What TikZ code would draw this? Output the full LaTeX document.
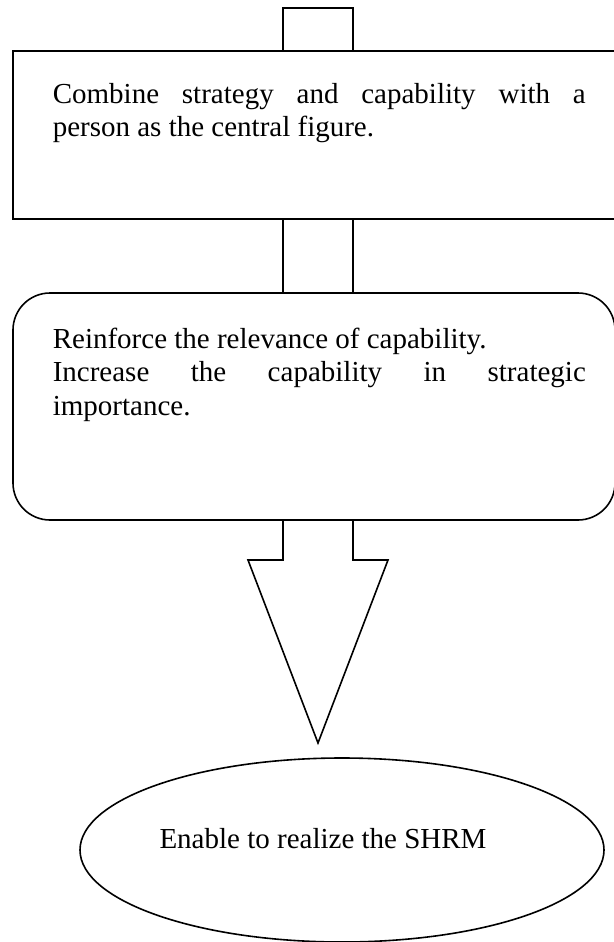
\documentclass[tikz,border=0pt]{standalone}
\usepackage{fontspec}
\setmainfont{Liberation Serif}
\usetikzlibrary{shapes.geometric,positioning}
\tikzset{
  frame/.style={draw, line width=1.6pt, inner sep=0pt, outer sep=0pt, anchor=north west},
  para/.style={inner sep=0pt, anchor=base west, text width=533pt, align=justify,
    font=\fontsize{29}{33.5}\selectfont},
  plain/.style={inner sep=0pt, anchor=base, font=\fontsize{29}{33.5}\selectfont},
}
\hbadness=10000
\begin{document}
\begin{tikzpicture}[x=1pt,y=-1pt,line width=1.6pt]
  \useasboundingbox (0,0) rectangle (613,942);
  \node[frame, minimum width=603pt, minimum height=168pt] (combine) at (13,51) {};
  \node[frame, rounded corners=37pt, minimum width=602pt, minimum height=227pt] (reinforce) at (13,293) {};
  \node[frame, ellipse, anchor=center, minimum width=524pt, minimum height=184pt] (shrm) at (342,850) {};
  \node[para] (combinetext) at (52,103)
    {Combine strategy and capability with a\linebreak person as the central figure.};
  \node[para] (reinforcetext) at (52,348)
    {Reinforce the relevance of capability.\\
     Increase the capability in strategic\linebreak importance.};
  \node[plain] (shrmtext) at (323,848) {Enable to realize the SHRM};
  \coordinate (shaftL) at (283,0);
  \coordinate (shaftR) at (353,0);
  \begin{scope}[line join=miter]
    \draw (shaftL |- combine.north) -- ++(0,-43) -| (shaftR |- combine.north);
    \draw (shaftL |- combine.south) -- (shaftL |- reinforce.north);
    \draw (shaftR |- combine.south) -- (shaftR |- reinforce.north);
    \draw (shaftL |- reinforce.south) -- ++(0,40) -- ++(-35,0) -- ++(70,183)
      -- ++(70,-183) -- ++(-35,0) -- (shaftR |- reinforce.south);
  \end{scope}
\end{tikzpicture}
\end{document}
